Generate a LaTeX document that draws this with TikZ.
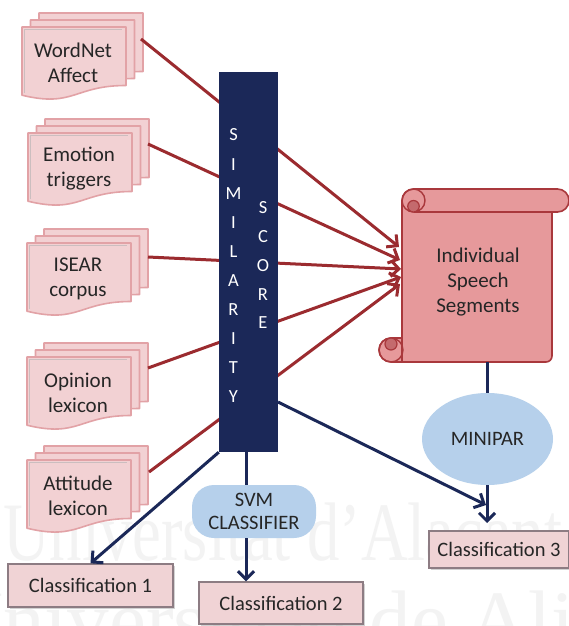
\documentclass[tikz,border=0pt]{standalone}
\usepackage{fontspec}
\setmainfont{Carlito}
\newfontfamily\wmfont{Liberation Serif}
\usetikzlibrary{arrows.meta,shapes.geometric,shadows}

\definecolor{docfill}{HTML}{F2D1D3}
\definecolor{docedge}{HTML}{E2A2A6}
\definecolor{linkred}{HTML}{9B2B2F}
\definecolor{navy}{HTML}{1B2858}
\definecolor{scrollfill}{HTML}{E6999B}
\definecolor{scrolledge}{HTML}{A9383C}
\definecolor{scrolldark}{HTML}{C46A6D}
\definecolor{paleblue}{HTML}{B6D0EB}
\definecolor{clsfill}{HTML}{F0D3D5}
\definecolor{clsedge}{HTML}{8D7C83}
\definecolor{inktext}{HTML}{262626}
\definecolor{wmgray}{HTML}{F3F3F3}

% one page of a multi-document stack, top-left corner at (#1,#2)
\newcommand\docpage[2]{%
  \filldraw[docpage] (#1,#2) -- (#1+104,#2) -- (#1+104,#2+58.5)
    .. controls (#1+52,#2+58.5) and (#1+52,#2+80.8) .. (#1,#2+68.2) -- cycle;}

% three stacked pages with a label on the front page
\newcommand\docstack[4]{%
  \docpage{#1+17}{#2-14}
  \docpage{#1+8.5}{#2-7}
  \docpage{#1}{#2}
  \draw[docshade] (#1+2.6,#2+66) -- (#1+2.6,#2+2.6) -- (#1+100,#2+2.6);
  \node[doctext] (#3) at (#1+51,#2+36) {#4};}

\begin{document}
\begin{tikzpicture}[x=1pt,y=-1pt,
  docpage/.style={fill=docfill, draw=docedge, line width=1.6pt, line join=round},
  docshade/.style={draw=gray!60, line width=1.4pt, opacity=0.6},
  doctext/.style={text=inktext, align=center, inner sep=0pt,
    font=\fontsize{21}{25}\selectfont},
  bartext/.style={text=white, inner sep=0pt, font=\fontsize{18.5}{20}\selectfont},
  redlink/.style={draw=linkred, line width=3pt},
  navylink/.style={draw=navy, line width=3pt},
  barbhead/.style={-{Straight Barb[length=8pt,width=16pt]}},
  clsbox/.style={fill=clsfill, draw=clsedge, line width=1.4pt, inner sep=0pt,
    text=inktext, font=\fontsize{20.5}{25}\selectfont,
    drop shadow={shadow xshift=1.5pt, shadow yshift=-1.5pt, opacity=0.35}},
  bluebox/.style={fill=paleblue, text=inktext, inner sep=0pt, align=center,
    font=\fontsize{20.5}{23}\selectfont},
  watermark/.style={text=wmgray, inner sep=0pt,
    font=\wmfont\fontsize{83}{90}\selectfont}]

\useasboundingbox (0,0) rectangle (569,626);
\fill[white] (0,0) rectangle (569,626);

% faint institutional watermark
\begin{scope}
  \clip (0,0) rectangle (569,626);
  \node[watermark, anchor=base west] (wm-top) at (3,560)
    {\scalebox{0.78}[1]{Universitat d’Alacant}};
  \node[watermark, anchor=base west] (wm-bottom) at (-57,648)
    {Universidad de Alicante};
\end{scope}

% lexical resources
\docstack{22}{27}{wordnet}{WordNet\\Affect}
\docstack{28}{133}{emotion}{Emotion\\triggers}
\docstack{27}{243}{isear}{ISEAR\\corpus}
\docstack{27}{357}{opinion}{Opinion\\lexicon}
\docstack{27}{460}{attitude}{Attitude\\lexicon}

% speech-segment scroll
\filldraw[fill=scrollfill, draw=scrolledge, line width=1.6pt, line join=round]
  (413.5,189) -- (557.5,189) arc[start angle=-90, end angle=90, radius=11.5]
  -- (552,212) -- (552,356) arc[start angle=0, end angle=90, radius=6]
  -- (391,362) arc[start angle=90, end angle=270, radius=12]
  -- (402,338) -- (402,200.5) arc[start angle=180, end angle=270, radius=11.5]
  -- cycle;
\draw[scrolledge, line width=1.4pt] (413.5,212) -- (552,212);
\draw[scrolledge, line width=1.4pt] (413.5,200.5) circle[radius=11.5];
\filldraw[fill=scrolldark, draw=scrolledge, line width=1.2pt]
  (413.5,206.25) circle[radius=5.75];
\draw[scrolledge, line width=1.4pt] (391,350) circle[radius=12];
\filldraw[fill=scrolldark, draw=scrolledge, line width=1.2pt]
  (391,344) circle[radius=6];
\draw[scrolledge, line width=1.4pt] (402,338) -- (402,362);
\node[doctext] (segments) at (478,282) {Individual\\Speech\\Segments};

% connector end points
\coordinate (wordnet-out) at (141,39);
\coordinate (emotion-out) at (148,144);
\coordinate (isear-out) at (148,257);
\coordinate (opinion-out) at (148,368);
\coordinate (attitude-out) at (149,472);
\coordinate (seg-in1) at (399,247);
\coordinate (seg-in2) at (400,260);
\coordinate (seg-in3) at (401,269);
\coordinate (seg-in4) at (401,277);
\coordinate (seg-in5) at (400,284);

% resources feeding the segments
\draw[redlink, barbhead] (wordnet-out) -- (seg-in1);
\draw[redlink, barbhead] (emotion-out) -- (seg-in2);
\draw[redlink, barbhead] (isear-out) -- (seg-in3);
\draw[redlink, barbhead] (opinion-out) -- (seg-in4);
\draw[redlink, barbhead] (attitude-out) -- (seg-in5);

% similarity score bar
\node[fill=navy, minimum width=59pt, minimum height=380pt, inner sep=0pt]
  (sim) at (248.5,262) {};
\foreach \ch [count=\i] in {S,I,M,I,L,A,R,I,T,Y}
  \node[bartext] (simil-\i) at (233.5,{135+29.1*(\i-1)}) {\ch};
\foreach \ch [count=\i] in {S,C,O,R,E}
  \node[bartext] (score-\i) at (263,{208+28.7*(\i-1)}) {\ch};

% classifiers
\node[bluebox, rounded corners=22pt, minimum width=124pt, minimum height=53pt]
  (svm) at (254,511.5) {SVM\\CLASSIFIER};
\node[bluebox, ellipse, minimum width=131pt, minimum height=92pt]
  (minipar) at (487.5,439) {MINIPAR};

% outputs
\node[clsbox, minimum width=165pt, minimum height=43pt] (class1) at (90.5,585.5)
  {Classification 1};
\node[clsbox, minimum width=164pt, minimum height=42pt] (class2) at (281,603)
  {Classification 2};
\node[clsbox, minimum width=140pt, minimum height=37pt] (class3) at (499,549.5)
  {Classification 3};

\coordinate (sim-right) at (278,402);
\coordinate (sim-down) at (246,452);
\coordinate (class3-in1) at (486,505);
\coordinate (class3-in2) at (487,523);
\coordinate (seg-bottom) at (487,362);

\draw[navylink, barbhead] (sim.south west) -- (class1.north);
\draw[navylink] (sim-down) -- (sim-down |- svm.north);
\draw[navylink, barbhead] (sim-down |- svm.south) -- (sim-down |- class2.north);
\draw[navylink, barbhead] (sim-right) -- (class3-in1);
\draw[navylink] (seg-bottom) -- (seg-bottom |- minipar.north);
\draw[navylink, barbhead] (class3-in2 |- minipar.south) -- (class3-in2);
\end{tikzpicture}
\end{document}
